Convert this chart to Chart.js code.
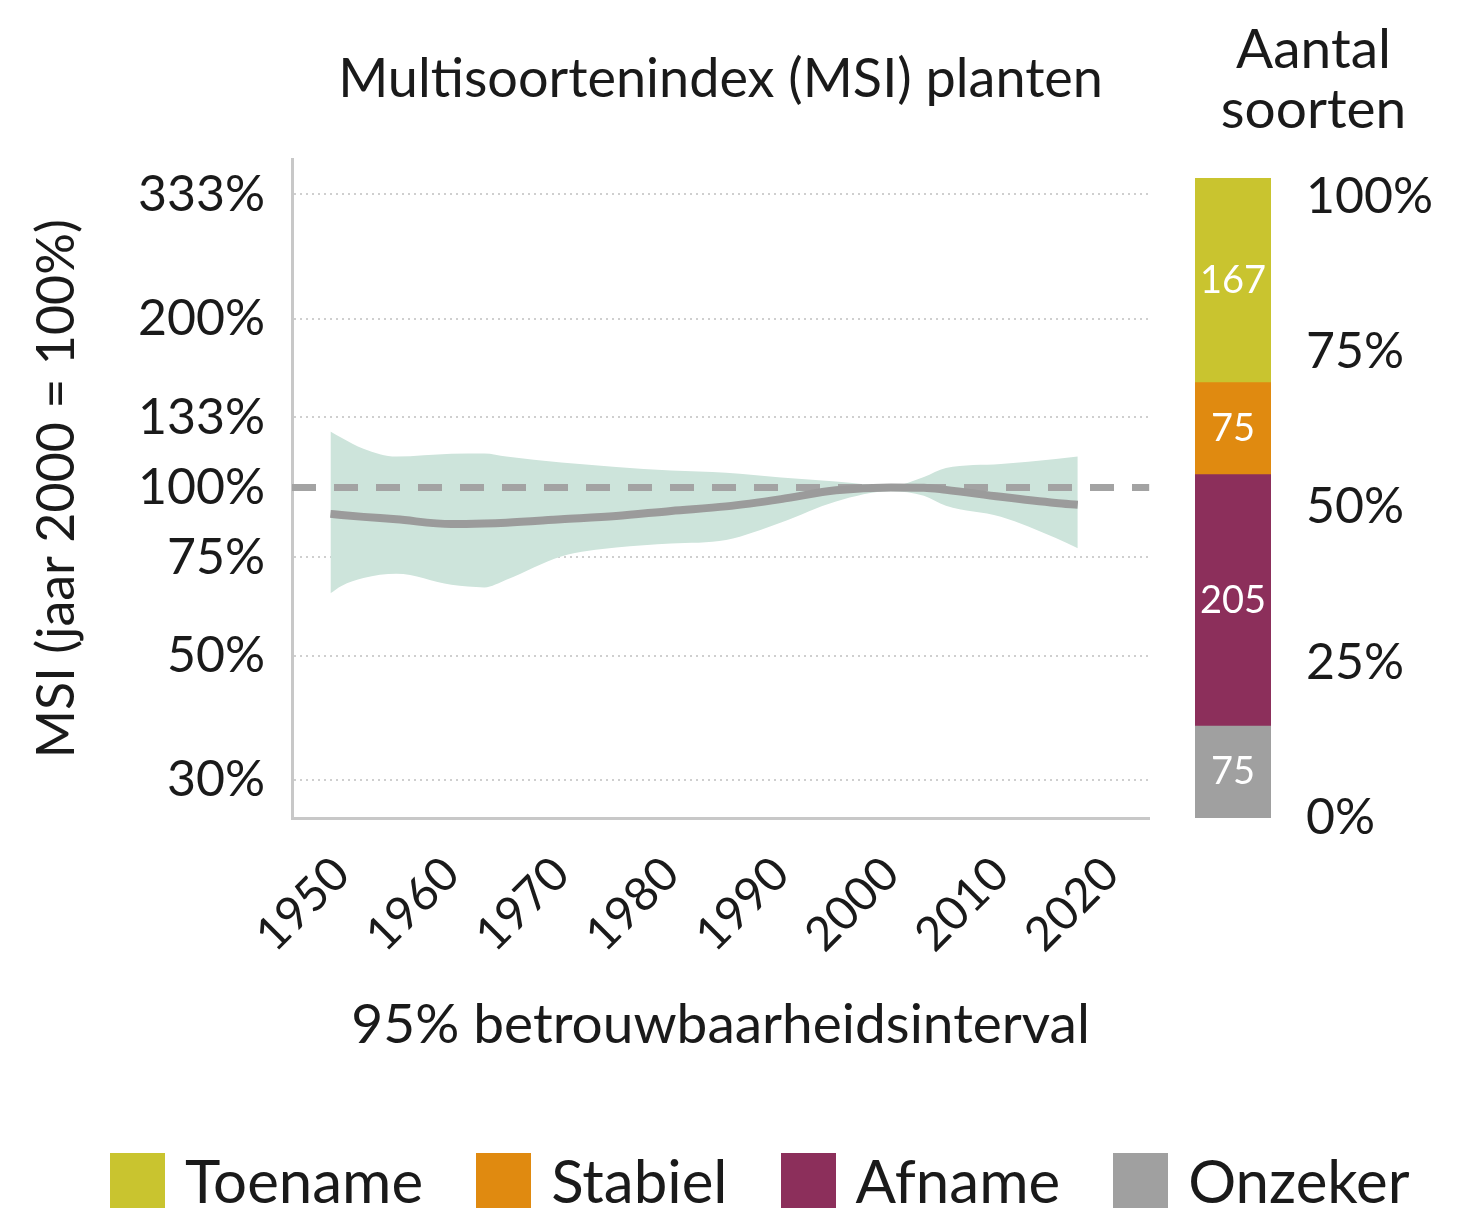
<!DOCTYPE html>
<html lang="nl">
<head>
    <meta charset="UTF-8">
    <title>Multisoortenindex (MSI) planten</title>
    <script src="https://cdn.jsdelivr.net/npm/chart.js"></script>
    <style>
        html, body { margin: 0; padding: 0; background: #fff; }
        body {
            width: 1459px; height: 1210px; position: relative; overflow: hidden;
            font-family: Lato, sans-serif; color: #1a1a1a;
        }
        #msi-wrap { position: absolute; left: 0; top: 0; width: 1180px; height: 1090px; }
        #soorten-wrap { position: absolute; left: 1155px; top: 0; width: 277px; height: 1090px; }
        #legenda { position: absolute; left: 110px; top: 1150px; display: flex; gap: 53px; align-items: center; }
        .item { display: flex; align-items: center; font-size: 60px; line-height: 1; }
        .blok { width: 55px; height: 55px; margin-right: 20px; }
    </style>
</head>
<body>
    <div id="msi-wrap"><canvas id="msiChart"></canvas></div>
    <div id="soorten-wrap"><canvas id="soortenChart"></canvas></div>
    <div id="legenda"></div>

    <script>
        // MSI planten, jaar 2000 = 100%
        const jaren      = [1949, 1950, 1952, 1955, 1960, 1963, 1965, 1970, 1975, 1980, 1985, 1990, 1995, 2000, 2003, 2005, 2010, 2015, 2017];
        const msi        = [89.7, 89.3, 88.6, 87.7, 86.0, 86.2, 86.5, 87.7, 88.9, 90.8, 92.5, 95.3, 98.8, 100, 99.9, 99.0, 96.2, 93.8, 93.1];
        const bovengrens = [125.8, 122.6, 117.2, 113.5, 114.8, 115.0, 113.6, 110.8, 108.8, 107.2, 106.2, 104.2, 102.5, 100.6, 104.4, 108.3, 110.1, 112.4, 113.5];
        const ondergrens = [64.7, 66.7, 68.9, 70.1, 67.0, 66.3, 68.4, 75.3, 78.1, 79.4, 80.6, 86.6, 94.4, 98.4, 96.6, 92.7, 88.6, 81.2, 77.9];
        const basisWaarde = 100;

        const jaarTicks = [1950, 1960, 1970, 1980, 1990, 2000, 2010, 2020];
        const msiTickWaarden = [30, 50, 75, 100, 133.33, 200, 333.33];
        const msiTickLabels  = ['30%', '50%', '75%', '100%', '133%', '200%', '333%'];

        // Aantal soorten per trendcategorie
        const categorieen = ['Toename', 'Stabiel', 'Afname', 'Onzeker'];
        const aantallen   = [167, 75, 205, 75];
        const kleuren     = ['#c9c42f', '#e08a10', '#8c2f5b', '#a0a0a0'];
        const pctTicks    = [0, 25, 50, 75, 100];
        const pctLabels   = ['0%', '25%', '50%', '75%', '100%'];

        Chart.defaults.font.family = 'Lato, sans-serif';
        Chart.defaults.color = '#1a1a1a';

        // gestippelde 100%-lijn
        const basisLijn = {
            id: 'basisLijn',
            beforeDatasetDraw(chart, args) {
                if (args.index !== 0) return;
                const ctx = chart.ctx;
                const area = chart.chartArea;
                const y = chart.scales.y.getPixelForValue(basisWaarde);
                ctx.save();
                ctx.strokeStyle = '#a3a3a3';
                ctx.lineWidth = 7;
                ctx.setLineDash([24, 18]);
                ctx.beginPath();
                ctx.moveTo(area.left, y);
                ctx.lineTo(area.right, y);
                ctx.stroke();
                ctx.restore();
            }
        };

        new Chart(document.getElementById('msiChart'), {
            type: 'line',
            data: {
                datasets: [
                    {
                        label: 'MSI',
                        data: jaren.map((j, i) => ({ x: j, y: msi[i] })),
                        borderColor: '#9b9b9b',
                        borderWidth: 8,
                        pointRadius: 0,
                        cubicInterpolationMode: 'monotone',
                        fill: false
                    },
                    {
                        label: 'bovengrens',
                        data: jaren.map((j, i) => ({ x: j, y: bovengrens[i] })),
                        borderWidth: 0,
                        pointRadius: 0,
                        cubicInterpolationMode: 'monotone',
                        fill: false
                    },
                    {
                        label: 'ondergrens',
                        data: jaren.map((j, i) => ({ x: j, y: ondergrens[i] })),
                        borderWidth: 0,
                        pointRadius: 0,
                        cubicInterpolationMode: 'monotone',
                        backgroundColor: '#cde4db',
                        fill: '-1'
                    }
                ]
            },
            options: {
                responsive: true,
                maintainAspectRatio: false,
                animation: false,
                plugins: {
                    legend: { display: false },
                    tooltip: { enabled: false },
                    title: {
                        display: true,
                        fullSize: false,
                        text: 'Multisoortenindex (MSI) planten',
                        font: { size: 54, weight: 'normal', lineHeight: 1.1 },
                        padding: { top: 50, bottom: 50 }
                    }
                },
                scales: {
                    x: {
                        type: 'linear',
                        min: 1945.5,
                        max: 2023.5,
                        afterBuildTicks: s => { s.ticks = jaarTicks.map(v => ({ value: v })); },
                        afterFit: s => { s.height = 272; },
                        ticks: {
                            autoSkip: false,
                            minRotation: 45,
                            maxRotation: 45,
                            padding: 28,
                            font: { size: 47 },
                            callback: v => String(v)
                        },
                        grid: { display: false, drawTicks: false },
                        border: { color: '#c8c8c8', width: 3 },
                        title: {
                            display: true,
                            text: '95% betrouwbaarheidsinterval',
                            font: { size: 55 },
                            padding: { top: 0, bottom: 32 }
                        }
                    },
                    y: {
                        type: 'logarithmic',
                        min: 25.7,
                        max: 385,
                        afterBuildTicks: s => { s.ticks = msiTickWaarden.map(v => ({ value: v })); },
                        afterFit: s => { s.width = 292; },
                        ticks: {
                            autoSkip: false,
                            padding: 27,
                            font: { size: 50 },
                            callback: (v, i) => msiTickLabels[i]
                        },
                        grid: {
                            color: c => (c.tick && c.tick.value === basisWaarde ? 'rgba(0,0,0,0)' : '#cfcfcf'),
                            lineWidth: 2,
                            drawTicks: false
                        },
                        border: { color: '#c8c8c8', width: 3, dash: [2, 4] },
                        title: {
                            display: true,
                            text: 'MSI (jaar 2000 = 100%)',
                            font: { size: 52 },
                            padding: { top: 26, bottom: 0 }
                        }
                    }
                }
            },
            plugins: [basisLijn]
        });

        // aantallen in de staafdelen
        const staafLabels = {
            id: 'staafLabels',
            afterDatasetsDraw(chart) {
                const ctx = chart.ctx;
                ctx.save();
                ctx.fillStyle = '#ffffff';
                ctx.font = '38px Lato, sans-serif';
                ctx.textAlign = 'center';
                ctx.textBaseline = 'middle';
                chart.data.datasets.forEach((ds, i) => {
                    chart.getDatasetMeta(i).data.forEach((bar, k) => {
                        const p = bar.getProps(['x', 'y', 'base'], true);
                        ctx.fillText(String(ds.data[k]), p.x, (p.y + p.base) / 2);
                    });
                });
                ctx.restore();
            }
        };

        const volgorde = [3, 2, 1, 0]; // van onder naar boven
        const totaal = aantallen.reduce((a, b) => a + b, 0);

        new Chart(document.getElementById('soortenChart'), {
            type: 'bar',
            data: {
                labels: ['soorten'],
                datasets: volgorde.map(i => ({
                    label: categorieen[i],
                    data: [aantallen[i]],
                    backgroundColor: kleuren[i],
                    yAxisID: 'aantal',
                    barPercentage: 1,
                    categoryPercentage: 1
                }))
            },
            options: {
                responsive: true,
                maintainAspectRatio: false,
                animation: false,
                layout: { padding: { left: 40, right: 0, bottom: 272 } },
                plugins: {
                    legend: { display: false },
                    tooltip: { enabled: false },
                    title: {
                        display: true,
                        text: ['Aantal', 'soorten'],
                        font: { size: 55, weight: 'normal', lineHeight: 1.09 },
                        padding: { top: 20, bottom: 38 }
                    }
                },
                scales: {
                    x: { display: false, stacked: true },
                    aantal: { display: false, stacked: true, min: 0, max: totaal },
                    pct: {
                        position: 'right',
                        min: 0,
                        max: 103,
                        afterBuildTicks: s => { s.ticks = pctTicks.map(v => ({ value: v })); },
                        afterFit: s => { s.width = 161; },
                        ticks: {
                            autoSkip: false,
                            padding: 35,
                            font: { size: 50 },
                            callback: (v, i) => pctLabels[i]
                        },
                        grid: { display: false, drawTicks: false },
                        border: { display: false }
                    }
                }
            },
            plugins: [staafLabels]
        });

        // legenda
        const legenda = document.getElementById('legenda');
        categorieen.forEach((c, i) => {
            const item = document.createElement('div');
            item.className = 'item';
            const blok = document.createElement('span');
            blok.className = 'blok';
            blok.style.background = kleuren[i];
            item.appendChild(blok);
            item.appendChild(document.createTextNode(c));
            legenda.appendChild(item);
        });
    </script>
</body>
</html>
